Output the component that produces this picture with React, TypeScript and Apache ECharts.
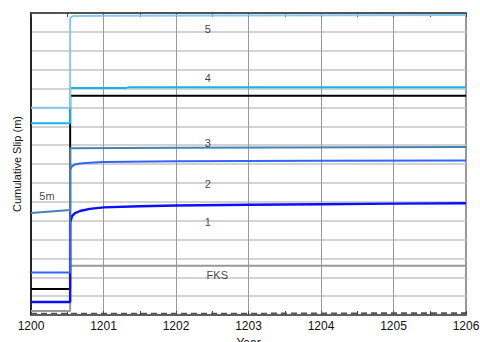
import React, { useEffect, useRef } from "react";
import * as echarts from "echarts";

// Time of the event step (years)
const T0 = 1200.54;

// Series values: [year, offset slip in grid units]
const fks: number[][] = [[1200, 0.21], [T0, 0.21], [T0, 2.61], [1206, 2.61]];
const dashedRef: number[][] = [[1200, 0.06], [1203, 0.07], [1206, 0.1]];
const blackLine: number[][] = [[1200, 1.38], [T0, 1.38], [T0, 11.62], [1206, 11.62]];
const line1: number[][] = [
  [1200, 0.69], [T0, 0.69], [T0, 4.9], [1200.566, 5.24], [1200.607, 5.4], [1200.676, 5.51],
  [1200.81, 5.62], [1201, 5.7], [1201.5, 5.76], [1202, 5.8], [1203, 5.84], [1204, 5.87],
  [1205, 5.9], [1206, 5.92],
];
const line2: number[][] = [
  [1200, 2.25], [T0, 2.25], [T0, 7.68], [1200.566, 7.89], [1200.607, 7.97], [1200.676, 8.03],
  [1200.81, 8.07], [1201, 8.11], [1202, 8.14], [1204, 8.17], [1206, 8.19],
];
const line3: number[][] = [[1200, 5.4], [T0, 5.56], [T0, 8.83], [1202, 8.86], [1206, 8.9]];
const line4: number[][] = [[1200, 10.16], [T0, 10.16], [T0, 12.02], [1201.3, 12.03], [1201.35, 12.06], [1206, 12.07]];
const line5: number[][] = [[1200, 10.98], [T0, 10.98], [T0, 15.75], [1200.58, 15.84], [1201, 15.86], [1206, 15.89]];

// Annotation labels
const labelTexts = ["5", "4", "3", "2", "1", "FKS", "5m"];
const labelPoints: number[][] = [
  [1202.44, 15.15], [1202.44, 12.56], [1202.44, 9.11], [1202.44, 6.94], [1202.44, 4.93],
  [1202.57, 2.12], [1200.22, 6.3],
];

const xTicks = [1200, 1201, 1202, 1203, 1204, 1205, 1206];

const FONT = "'Liberation Sans', Arial, Helvetica, sans-serif";

export default function App() {
  const ref = useRef<HTMLDivElement>(null);
  useEffect(() => {
    if (!ref.current) return;
    const chart = echarts.init(ref.current, undefined, { renderer: "svg" });
    const mk = (data: number[][], color: string, width = 2, type: any = "solid", z = 2) => ({
      type: "line",
      data,
      showSymbol: false,
      symbol: "none",
      z,
      lineStyle: { color, width, type },
      emphasis: { disabled: true },
    });
    chart.setOption({
      animation: false,
      textStyle: { fontFamily: FONT },
      grid: {
        left: 31, right: 14, top: 13, bottom: 27,
        containLabel: false,
        outerBoundsMode: "none",
        show: true, borderColor: "#777", borderWidth: 1.5,
      },
      xAxis: [
        {
          type: "value",
          min: xTicks[0],
          max: xTicks[xTicks.length - 1],
          interval: 1,
          name: "Year",
          nameLocation: "middle",
          nameGap: 18,
          nameTextStyle: { color: "#111", fontSize: 12, fontFamily: FONT },
          axisLine: { show: true, lineStyle: { color: "#444", width: 1.5 } },
          axisTick: { show: true, inside: true, length: 4, lineStyle: { color: "#444" } },
          minorTick: { show: true, splitNumber: 2, length: 4, lineStyle: { color: "#444" } },
          axisLabel: { color: "#111", fontSize: 12, margin: 5, fontFamily: FONT, formatter: (v: number) => String(v) },
          splitLine: { show: true, lineStyle: { color: "#999", width: 1 } },
        },
        {
          type: "value",
          position: "top",
          min: xTicks[0],
          max: xTicks[xTicks.length - 1],
          interval: 1,
          axisLine: { show: true, lineStyle: { color: "#333", width: 1.5 } },
          axisTick: { show: true, inside: true, length: 4, lineStyle: { color: "#444" } },
          minorTick: { show: true, splitNumber: 2, length: 4, lineStyle: { color: "#444" } },
          axisLabel: { show: false },
          splitLine: { show: false },
        },
      ],
      yAxis: {
        type: "value",
        min: 0,
        max: 16,
        interval: 1,
        name: "Cumulative Slip (m)",
        nameLocation: "middle",
        nameGap: 9,
        nameTextStyle: { color: "#111", fontSize: 11, fontFamily: FONT },
        axisLine: { show: true, lineStyle: { color: "#000", width: 1.5 } },
        axisTick: { show: false },
        axisLabel: { show: false },
        splitLine: { show: true, lineStyle: { color: "#c4c4c4", width: 1.5 } },
      },
      series: [
        mk(blackLine, "#000000", 2, "solid", 2),
        mk(fks, "#999999", 2, "solid", 3),
        mk(dashedRef, "#555555", 2, [6, 4], 3),
        mk(line1, "#0a10f8", 2.4, "solid", 4),
        mk(line2, "#3464f8", 2, "solid", 4),
        mk(line3, "#4682b4", 2, "solid", 4),
        mk(line4, "#14b4ec", 2, "solid", 5),
        mk(line5, "#88c8f2", 2, "solid", 6),
        {
          type: "scatter",
          data: labelPoints.map((p, i) => ({ value: p, name: labelTexts[i] })),
          symbolSize: 0,
          z: 10,
          label: {
            show: true,
            position: "inside",
            formatter: (p: any) => p.name,
            color: "#111",
            fontSize: 11,
            fontFamily: FONT,
          },
          emphasis: { disabled: true },
        },
      ],
    });
    return () => chart.dispose();
  }, []);
  return <div ref={ref} style={{ width: 480, height: 342, position: "absolute", left: 0, top: 0, background: "#fff" }} />;
}
